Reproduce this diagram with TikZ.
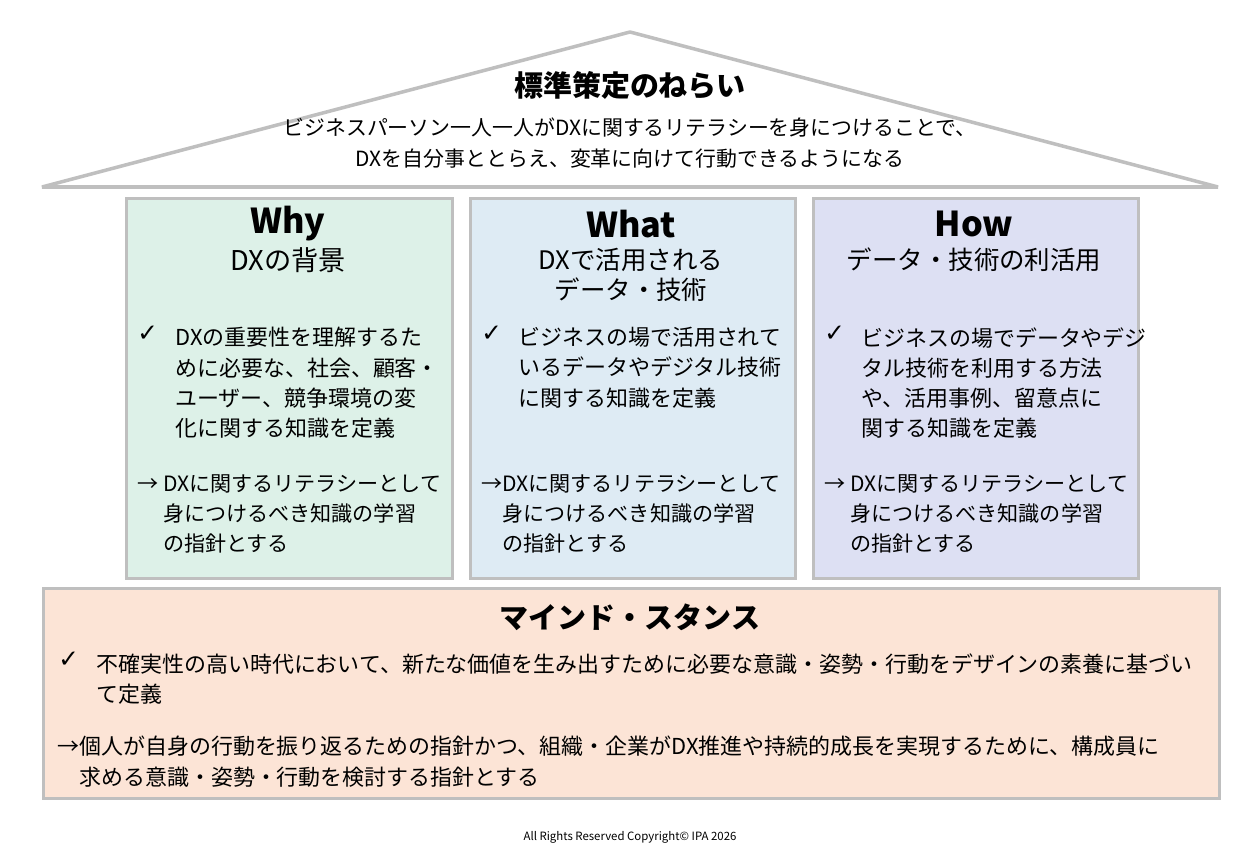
\documentclass[tikz,border=0pt]{standalone}
\usepackage{fontspec}
\setmainfont{Noto Sans CJK JP}
\newfontfamily\symf{DejaVu Sans}
\begin{document}
\begin{tikzpicture}[x=0.02cm,y=-0.02cm,
 box/.style={draw=black!25,line width=1.5pt},
 body/.style={anchor=north west,align=left,inner sep=0,font=\fontsize{12.5}{17.2}\selectfont},
 arr/.style={body,font=\fontsize{12}{17.2}\selectfont},
 chk/.style={anchor=north west,inner sep=0,font=\fontsize{14}{17.2}\selectfont},
 head/.style={anchor=center,align=center,inner sep=0,font=\fontsize{14.5}{17.5}\selectfont},
 big/.style={head,font=\bfseries\fontsize{19.5}{22}\selectfont}]
\useasboundingbox (0,0) rectangle (1260,864);
\definecolor{gr}{HTML}{DDF1E8}\definecolor{bl}{HTML}{DEEBF4}\definecolor{lv}{HTML}{DDE0F3}\definecolor{pc}{HTML}{FCE4D6}
\draw[box,line width=2pt,fill=white,line join=bevel] (42,187) -- (630,32) -- (1218,187) -- cycle;
\node[head,font=\bfseries\fontsize{16.5}{18}\selectfont] (t) at (630,85) {標準策定のねらい};
\node[head,font=\fontsize{11.9}{17.2}\selectfont] (t2) at (630,143) {ビジネスパーソン一人一人がDXに関するリテラシーを身につけることで、\\DXを自分事ととらえ、変革に向けて行動できるようになる};
\node[box,fill=gr,minimum width=326*0.02cm,minimum height=380*0.02cm,anchor=north west] (why) at (125,197) {};
\node[box,fill=bl,minimum width=325*0.02cm,minimum height=380*0.02cm,anchor=north west] (what) at (469,197) {};
\node[box,fill=lv,minimum width=325*0.02cm,minimum height=380*0.02cm,anchor=north west] (how) at (812,197) {};
\node[box,fill=pc,minimum width=1176*0.02cm,minimum height=210*0.02cm,anchor=north west] (mind) at (42,587) {};
% Why
\node[big] (w1) at (288,224) {Why};
\node[head,font=\fontsize{15.5}{18}\selectfont] (w2) at (288,260) {DXの背景};
\node[chk] (wm1) at (137,326) {\symf ✓};
\node[body] (wb1) at (175,327) {DXの重要性を理解するた\\めに必要な、社会、顧客・\\ユーザー、競争環境の変\\化に関する知識を定義};
\node[arr] (wb2) at (137,474) {→ DXに関するリテラシーとして\\\phantom{→ }身につけるべき知識の学習\\\phantom{→ }の指針とする};
% What
\node[big] (h1) at (631,224) {What};
\node[head] (h2) at (631,275) {DXで活用される\\データ・技術};
\node[chk] (hm1) at (481,326) {\symf ✓};
\node[body] (hb1) at (518,327) {ビジネスの場で活用されて\\いるデータやデジタル技術\\に関する知識を定義};
\node[arr] (hb2) at (481,474) {→DXに関するリテラシーとして\\\phantom{→}身につけるべき知識の学習\\\phantom{→}の指針とする};
% How
\node[big] (o1) at (974,224) {How};
\node[head] (o2) at (974,260) {データ・技術の利活用};
\node[chk] (om1) at (824,326) {\symf ✓};
\node[body] (ob1) at (861,327) {ビジネスの場でデータやデジ\\タル技術を利用する方法\\や、活用事例、留意点に\\関する知識を定義};
\node[arr] (ob2) at (824,474) {→ DXに関するリテラシーとして\\\phantom{→ }身につけるべき知識の学習\\\phantom{→ }の指針とする};
% Mind
\node[head,font=\bfseries\fontsize{16.5}{18}\selectfont] (m1) at (630,617) {マインド・スタンス};
\node[chk] (mm1) at (58,652) {\symf ✓};
\node[body] (mb1) at (96,653) {不確実性の高い時代において、新たな価値を生み出すために必要な意識・姿勢・行動をデザインの素養に基づい\\て定義};
\node[body] (mb2) at (57,736) {→個人が自身の行動を振り返るための指針かつ、組織・企業がDX推進や持続的成長を実現するために、構成員に\\\phantom{→}求める意識・姿勢・行動を検討する指針とする};
\node[head,font=\fontsize{6.5}{8}\selectfont] (c) at (630,837) {All Rights Reserved Copyright© IPA 2026};
\end{tikzpicture}
\end{document}
